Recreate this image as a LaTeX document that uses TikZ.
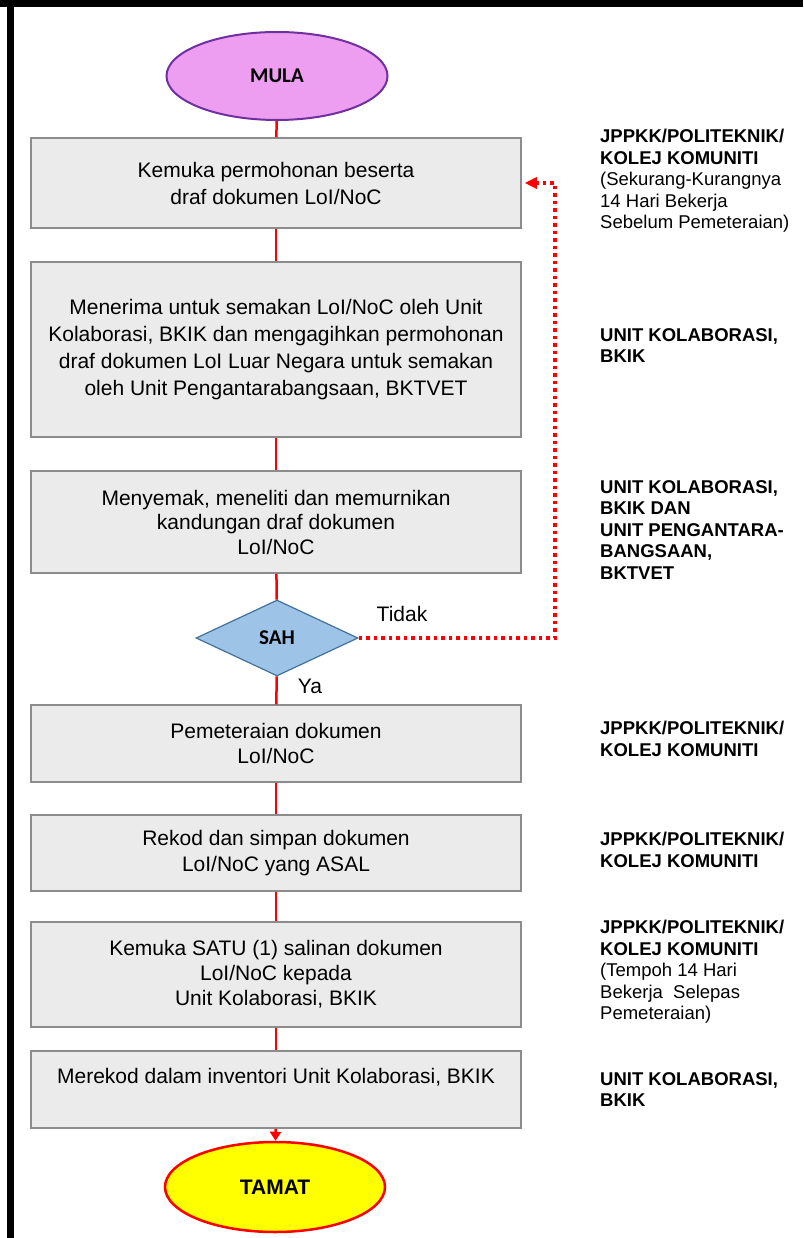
\documentclass[tikz,border=0pt]{standalone}
\usepackage{fontspec}
\setmainfont{Liberation Sans}
\newfontfamily\calfont{Carlito}
\usetikzlibrary{shapes.geometric}
\usetikzlibrary{arrows.meta}
\usetikzlibrary{positioning}
\definecolor{boxfill}{RGB}{235,235,235}
\definecolor{boxline}{RGB}{140,140,140}
\definecolor{mulafill}{RGB}{238,158,240}
\definecolor{mulaline}{RGB}{112,48,160}
\definecolor{sahfill}{RGB}{157,195,230}
\definecolor{sahline}{RGB}{65,113,156}
\definecolor{flowred}{RGB}{255,0,0}
\definecolor{tamatfill}{RGB}{255,255,0}

\begin{document}
\begin{tikzpicture}[x=1pt, y=-1pt,
  stepbox/.style={rectangle, fill=boxfill, draw=boxline, line width=1.5pt, minimum width=490pt, inner sep=0pt, align=center, font=\fontsize{21}{27}\selectfont},
  ends/.style={ellipse, inner sep=0pt},
  flow/.style={draw=flowred, line width=2.5pt},
  nogo/.style={draw=flowred, line width=3.5pt, dash pattern=on 3.5pt off 4pt, -{Triangle[length=12pt,width=11pt]}, shorten >=3pt},
  who/.style={anchor=north west, inner sep=0pt, align=left, font=\fontsize{18.5}{21.5}\selectfont}]
	\useasboundingbox (0,0) rectangle (803,1238);
	% frame
	\fill[black] (0,0) rectangle (803,7);
	\fill[black] (7,0) rectangle (14,1238);

	% flow column
	\node[ends, fill=mulafill, draw=mulaline, line width=2pt, minimum width=221pt, minimum height=88pt, font=\calfont\bfseries\fontsize{21}{24}\selectfont] (mula) at (277,76) {MULA};
	\node[stepbox, minimum height=90pt] (kemuka) at (276,183) {Kemuka permohonan beserta\\draf dokumen LoI/NoC};
	\node[stepbox, minimum height=175pt] (terima) at (276,349.5) {Menerima untuk semakan LoI/NoC oleh Unit\\Kolaborasi, BKIK dan mengagihkan permohonan\\draf dokumen LoI Luar Negara untuk semakan\\oleh Unit Pengantarabangsaan, BKTVET};
	\node[stepbox, minimum height=102pt, font=\fontsize{21}{24.5}\selectfont] (semak) at (276,522) {Menyemak, meneliti dan memurnikan\\kandungan draf dokumen\\LoI/NoC};
	\node[diamond, fill=sahfill, draw=sahline, line width=1.2pt, minimum width=162pt, minimum height=76pt, inner sep=0pt, font=\calfont\bfseries\fontsize{21}{24}\selectfont] (sah) at (277,638) {SAH};
	\node[stepbox, minimum height=77pt, font=\fontsize{21}{25.5}\selectfont] (meterai) at (276,743.5) {Pemeteraian dokumen\\LoI/NoC};
	\node[stepbox, minimum height=76pt, font=\fontsize{21}{25.5}\selectfont] (rekod) at (276,853) {Rekod dan simpan dokumen\\LoI/NoC yang ASAL};
	\node[stepbox, minimum height=105pt, font=\fontsize{21}{25}\selectfont] (salinan) at (276,974.5) {Kemuka SATU (1) salinan dokumen\\LoI/NoC kepada\\Unit Kolaborasi, BKIK};
	\node[stepbox, minimum height=77pt] (inventori) at (276,1089.5) {Merekod dalam inventori Unit Kolaborasi, BKIK\\\mbox{}};
	\node[ends, fill=tamatfill, draw=flowred, line width=2.5pt, minimum width=220pt, minimum height=90pt, font=\bfseries\fontsize{21}{24}\selectfont] (tamat) at (275,1187) {TAMAT};

	% connectors
	\draw[flow] (mula) -- (kemuka);
	\draw[flow] (kemuka) -- (terima);
	\draw[flow] (terima) -- (semak);
	\draw[flow] (semak) -- (sah);
	\draw[flow] (sah) -- (meterai);
	\draw[flow] (meterai) -- (rekod);
	\draw[flow] (rekod) -- (salinan);
	\draw[flow] (salinan) -- (inventori);
	\draw[flow, -{Triangle[length=9pt,width=11pt]}] (inventori) -- (tamat);
	\coordinate (bend) at (555,183);
	\draw[nogo] (sah.east) -| (bend) -- (kemuka.east);
	\node[font=\fontsize{21}{24}\selectfont] (tidak) at (402,614) {Tidak};
	\node[font=\fontsize{21}{24}\selectfont] (ya) at (310,686) {Ya};

	% right column
	\node[who] (who1) at (600,129) {\textbf{JPPKK/POLITEKNIK/}\\\textbf{KOLEJ KOMUNITI}\\(Sekurang-Kurangnya\\14 Hari Bekerja\\Sebelum Pemeteraian)};
	\node[who] (who2) at (600,328) {\textbf{UNIT KOLABORASI,}\\\textbf{BKIK}};
	\node[who] (who3) at (600,480) {\textbf{UNIT KOLABORASI,}\\\textbf{BKIK DAN}\\\textbf{UNIT PENGANTARA-}\\\textbf{BANGSAAN,}\\\textbf{BKTVET}};
	\node[who] (who4) at (600,721) {\textbf{JPPKK/POLITEKNIK/}\\\textbf{KOLEJ KOMUNITI}};
	\node[who] (who5) at (600,832) {\textbf{JPPKK/POLITEKNIK/}\\\textbf{KOLEJ KOMUNITI}};
	\node[who] (who6) at (600,920) {\textbf{JPPKK/POLITEKNIK/}\\\textbf{KOLEJ KOMUNITI}\\(Tempoh 14 Hari\\Bekerja\ \ Selepas\\Pemeteraian)};
	\node[who] (who7) at (600,1072) {\textbf{UNIT KOLABORASI,}\\\textbf{BKIK}};
\end{tikzpicture}
\end{document}
